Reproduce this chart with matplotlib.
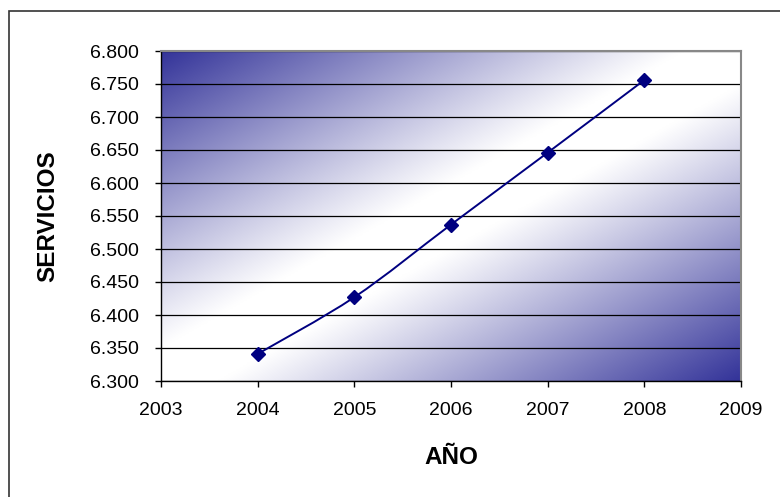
import numpy as np
import matplotlib.pyplot as plt
from matplotlib.path import Path
from matplotlib.patches import PathPatch, Rectangle
from matplotlib.ticker import FuncFormatter

years = [2004, 2005, 2006, 2007, 2008]
servicios = [6.341, 6.427, 6.537, 6.646, 6.756]

x_ticks = [2003, 2004, 2005, 2006, 2007, 2008, 2009]
y_ticks = [6.300, 6.350, 6.400, 6.450, 6.500, 6.550, 6.600, 6.650, 6.700, 6.750, 6.800]

LINE_COLOR = '#000080'
FILL_DARK = np.array([0x33, 0x33, 0x99]) / 255.0

plt.rcParams['font.family'] = ['Liberation Sans', 'DejaVu Sans']


def smooth_path(xs, ys):
    """Catmull-Rom style bezier through the points (like a spreadsheet smoothed line)."""
    pts = np.column_stack([xs, ys]).astype(float)
    verts = [pts[0]]
    codes = [Path.MOVETO]
    n = len(pts)
    for i in range(n - 1):
        p0 = pts[i - 1] if i > 0 else pts[i]
        p1 = pts[i]
        p2 = pts[i + 1]
        p3 = pts[i + 2] if i + 2 < n else pts[i + 1]
        c1 = p1 + (p2 - p0) / 6.0
        c2 = p2 - (p3 - p1) / 6.0
        verts += [c1, c2, p2]
        codes += [Path.CURVE4] * 3
    return Path(verts, codes)


fig = plt.figure(figsize=(7.8, 4.97), dpi=100)
ax = fig.add_axes([161 / 780, 1 - 381 / 497, 580 / 780, 330 / 497])

# outer chart frame (runs off the right and bottom edges)
fig.patches.append(Rectangle((9 / 780, -0.1), 1.2, 1 - 11 / 497 + 0.1,
                             transform=fig.transFigure, fill=False,
                             edgecolor='#333333', linewidth=1.2))

# diagonal two-tone gradient for the plot area
gx, gy = np.meshgrid(np.linspace(0, 1, 400), np.linspace(1, 0, 240))
d = np.clip((np.abs(gy - gx) - 0.1) / 0.9, 0, 1) ** 1.05
img = (1 - d[..., None]) * 1.0 + d[..., None] * FILL_DARK
ax.imshow(img, extent=[2003, 2009, 6.3, 6.8], aspect='auto', zorder=0,
          interpolation='bilinear')

ax.set_xlim(2003, 2009)
ax.set_ylim(6.3, 6.8)
ax.set_xticks(x_ticks)
ax.set_yticks(y_ticks)
ax.yaxis.set_major_formatter(FuncFormatter(lambda v, p: f'{v:.3f}'))

ax.grid(axis='y', color='black', linewidth=0.9)
ax.grid(axis='x', visible=False)

ax.add_patch(PathPatch(smooth_path(years, servicios), fill=False,
                       edgecolor=LINE_COLOR, linewidth=1.4, zorder=3))
ax.plot(years, servicios, linestyle='none', marker='D', markersize=7.5,
        color=LINE_COLOR, zorder=4)

for side in ['top', 'right']:
    ax.spines[side].set_color('#888888')
    ax.spines[side].set_linewidth(1.5)
for side in ['left', 'bottom']:
    ax.spines[side].set_color('black')
    ax.spines[side].set_linewidth(1.0)

ax.tick_params(axis='both', direction='out', length=4, width=1, labelsize=14,
               colors='black')
ax.tick_params(axis='y', pad=12)
ax.tick_params(axis='x', pad=11)

ax.set_ylabel('SERVICIOS', fontsize=17.5, fontweight='bold')
ax.set_xlabel('AÑO', fontsize=17.5, fontweight='bold')
ax.yaxis.set_label_coords((59 - 161) / 580, 0.5)
ax.xaxis.set_label_coords(0.5, -(446 - 381) / 330)

fig.savefig('out.png', dpi=100)
